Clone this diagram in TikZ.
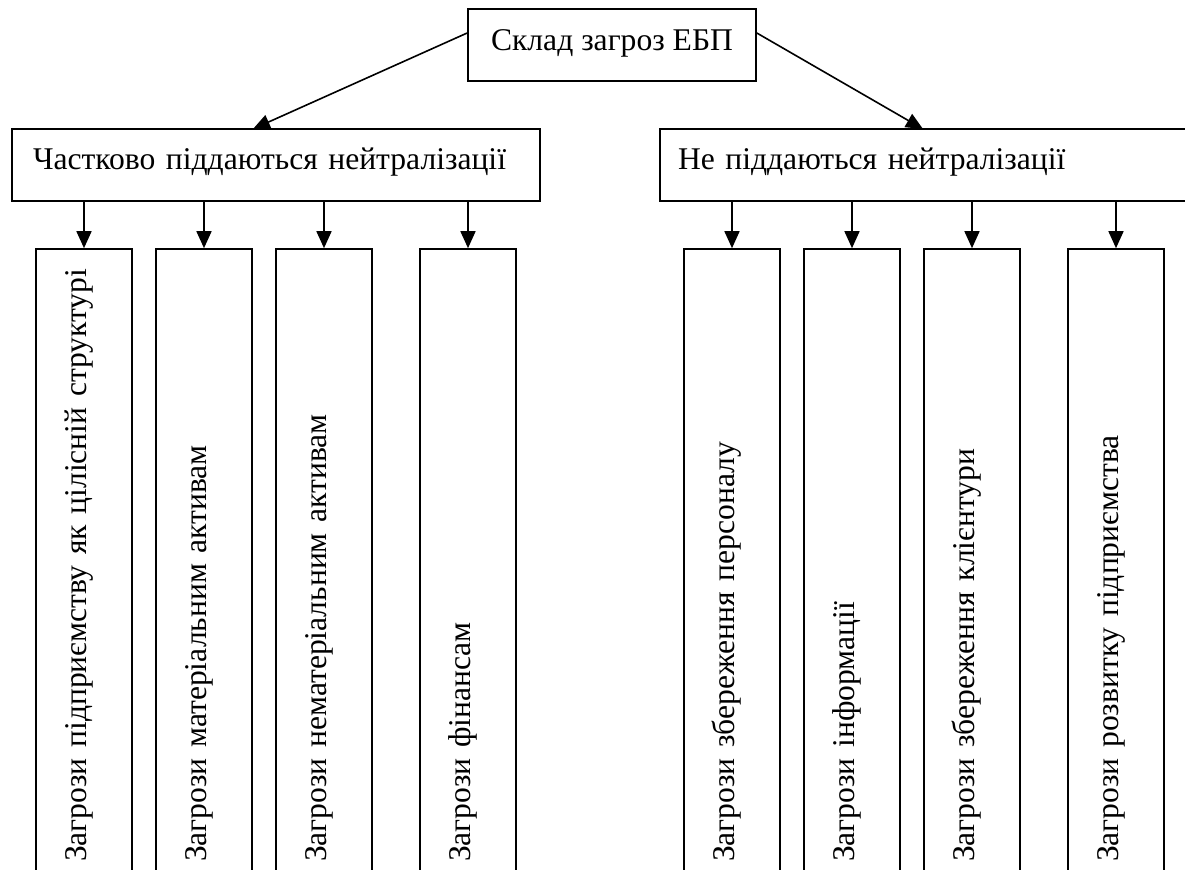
\documentclass[tikz,border=0pt]{standalone}
\usepackage{fontspec}
\setmainfont{Liberation Serif}
\usetikzlibrary{arrows.meta}
\begin{document}
\begin{tikzpicture}[x=0.5pt,y=-0.5pt,
  box/.style={draw, line width=0.8pt, inner sep=0pt, font=\fontsize{15.8}{19}\selectfont},
  arr/.style={line width=0.8pt, -{Triangle[length=8.5pt,width=7.5pt]}},
  vbox/.style={box, rotate=90, minimum width=312.5pt, minimum height=48pt,
    inner xsep=6pt, text width=300.5pt, align=left, text height=11pt, text depth=9pt}]
\useasboundingbox (0,0) rectangle (1185,870);
\clip (0,0) rectangle (1185,870);
% top
\node[box, minimum width=144pt, minimum height=36pt, text height=9pt, text depth=3pt] (top) at (612,45) {Склад загроз ЕБП};
% middle
\node[box, minimum width=264pt, minimum height=36pt, inner xsep=10.5pt, text width=243pt, align=left, text height=10pt, text depth=5pt] (mid1) at (276,165) {Частково піддаються нейтралізації};
\node[box, minimum width=266pt, minimum height=36pt, inner xsep=9pt, text width=248pt, align=left, text height=10pt, text depth=5pt] (mid2) at (926,165) {Не піддаються нейтралізації};
\coordinate (tl) at (253,129);
\coordinate (tr) at (923,129);
\draw[arr] ([yshift=6pt]top.west) -- (tl);
\draw[arr] ([yshift=6pt]top.east) -- (tr);
% vertical boxes
\node[vbox] (a1) at (84,561.5) {Загрози підприємству як цілісній структурі};
\node[vbox] (a2) at (204,561.5) {Загрози матеріальним активам};
\node[vbox] (a3) at (324,561.5) {Загрози нематеріальним активам};
\node[vbox] (a4) at (468,561.5) {Загрози фінансам};
\node[vbox] (b1) at (732,561.5) {Загрози збереження персоналу};
\node[vbox] (b2) at (852,561.5) {Загрози інформації};
\node[vbox] (b3) at (972,561.5) {Загрози збереження клієнтури};
\node[vbox] (b4) at (1116,561.5) {Загрози розвитку підприємства};
\foreach \n in {a1,a2,a3,a4}{\draw[arr] (\n.east |- mid1.south) -- (\n.east);}
\foreach \n in {b1,b2,b3,b4}{\draw[arr] (\n.east |- mid2.south) -- (\n.east);}
\end{tikzpicture}
\end{document}
